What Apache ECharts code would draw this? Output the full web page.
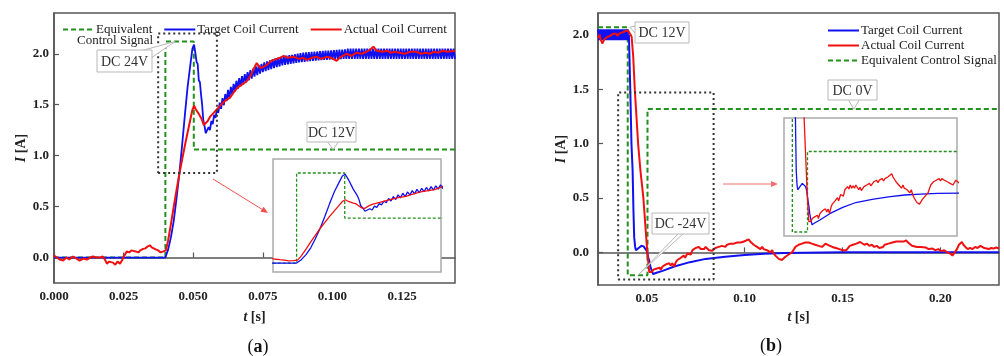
<!DOCTYPE html>
<html>
<head>
<meta charset="utf-8">
<script src="https://cdn.jsdelivr.net/npm/echarts@6/dist/echarts.min.js"></script>
<style>
  html, body { margin: 0; padding: 0; background: #fff; }
  #chart { width: 1004px; height: 356px; }
</style>
</head>
<body>
<div id="chart"></div>
<script>
// ---- (a) switching on: time [s], current [A] ----
const ticksTimeA = [0, 0.025, 0.05, 0.075, 0.1, 0.125];
const ticksCurrentA = [0, 0.5, 1, 1.5, 2];
const controlA = [[0, 0], [0.0400, 0], [0.0400, 2.12], [0.0502, 2.12], [0.0502, 1.06], [0.144, 1.06]];
const targetA = [
  [0, 0], [0.040, 0], [0.041, 0.08], [0.042, 0.2], [0.043, 0.36], [0.044, 0.58], [0.045, 0.82], [0.046, 1.1],
  [0.047, 1.4], [0.048, 1.68], [0.049, 1.9], [0.0497, 2.05], [0.0503, 2.09], [0.0508, 2.0], [0.0512, 1.92],
  [0.0516, 1.9], [0.052, 1.74], [0.0524, 1.72], [0.0528, 1.6], [0.0532, 1.5], [0.0536, 1.35], [0.054, 1.3],
  [0.0545, 1.22], [0.055, 1.25],
  [0.0555, 1.28], [0.056, 1.25], [0.0565, 1.34], [0.057, 1.31], [0.0575, 1.40], [0.058, 1.37], [0.0585, 1.46],
  [0.059, 1.42], [0.0595, 1.52], [0.060, 1.46], [0.0605, 1.565], [0.061, 1.495], [0.0615, 1.605], [0.062, 1.535],
  [0.0625, 1.645], [0.063, 1.565], [0.0635, 1.675], [0.064, 1.60], [0.0645, 1.705], [0.065, 1.63], [0.0655, 1.735],
  [0.066, 1.655], [0.0665, 1.76], [0.067, 1.68], [0.0675, 1.78], [0.068, 1.70], [0.0685, 1.80], [0.069, 1.72],
  [0.0695, 1.82], [0.070, 1.74], [0.0705, 1.84], [0.071, 1.755], [0.0715, 1.855], [0.072, 1.775], [0.0725, 1.875],
  [0.073, 1.79], [0.0735, 1.89], [0.074, 1.805], [0.0745, 1.90], [0.075, 1.82], [0.0755, 1.915], [0.076, 1.83],
  [0.0765, 1.925], [0.077, 1.84], [0.0775, 1.935], [0.078, 1.85], [0.0785, 1.945], [0.079, 1.86], [0.0795, 1.955],
  [0.080, 1.868], [0.0805, 1.962], [0.081, 1.875], [0.0815, 1.97], [0.082, 1.885], [0.0825, 1.977], [0.083, 1.89],
  [0.0835, 1.982], [0.084, 1.895], [0.0845, 1.987], [0.085, 1.90], [0.0855, 1.99], [0.086, 1.905], [0.0865, 1.995],
  [0.087, 1.91], [0.0875, 2.0], [0.088, 1.915], [0.0885, 2.005], [0.089, 1.918], [0.0895, 2.01], [0.090, 1.92],
  [0.0905, 2.013], [0.091, 1.925], [0.0915, 2.015], [0.092, 1.928], [0.0925, 2.018], [0.093, 1.93], [0.0935, 2.02],
  [0.094, 1.933], [0.0945, 2.022], [0.095, 1.935], [0.0955, 2.025], [0.096, 1.937], [0.0965, 2.027], [0.097, 1.94],
  [0.0975, 2.03], [0.098, 1.94], [0.0985, 2.03], [0.099, 1.942], [0.0995, 2.033], [0.100, 1.945], [0.1005, 2.035],
  [0.101, 1.945], [0.1015, 2.037], [0.102, 1.947], [0.1025, 2.04], [0.103, 1.948], [0.1035, 2.04], [0.104, 1.95],
  [0.1045, 2.042], [0.105, 1.95], [0.1055, 2.05], [0.106, 1.95], [0.1065, 2.05], [0.107, 1.95], [0.1075, 2.05],
  [0.108, 1.95], [0.1085, 2.05], [0.109, 1.95], [0.1095, 2.05], [0.110, 1.95], [0.1105, 2.05], [0.111, 1.95],
  [0.1115, 2.05], [0.112, 1.95], [0.1125, 2.05], [0.113, 1.95], [0.1135, 2.05], [0.114, 1.95], [0.1145, 2.05],
  [0.115, 1.95], [0.1155, 2.05], [0.116, 1.95], [0.1165, 2.05], [0.117, 1.95], [0.1175, 2.05], [0.118, 1.95],
  [0.1185, 2.05], [0.119, 1.95], [0.1195, 2.05], [0.120, 1.95], [0.1205, 2.05], [0.121, 1.95], [0.1215, 2.05],
  [0.122, 1.95], [0.1225, 2.05], [0.123, 1.95], [0.1235, 2.05], [0.124, 1.95], [0.1245, 2.05], [0.125, 1.95],
  [0.1255, 2.05], [0.126, 1.95], [0.1265, 2.05], [0.127, 1.95], [0.1275, 2.05], [0.128, 1.95], [0.1285, 2.05],
  [0.129, 1.95], [0.1295, 2.05], [0.130, 1.95], [0.1305, 2.05], [0.131, 1.95], [0.1315, 2.05], [0.132, 1.95],
  [0.1325, 2.05], [0.133, 1.95], [0.1335, 2.05], [0.134, 1.95], [0.1345, 2.05], [0.135, 1.95], [0.1355, 2.05],
  [0.136, 1.95], [0.1365, 2.05], [0.137, 1.95], [0.1375, 2.05], [0.138, 1.95], [0.1385, 2.05], [0.139, 1.95],
  [0.1395, 2.05], [0.140, 1.95], [0.1405, 2.05], [0.141, 1.95], [0.1415, 2.05], [0.142, 1.95], [0.1425, 2.05],
  [0.143, 1.95], [0.1435, 2.05], [0.144, 1.95]
];
const actualA = [
  [0, 0.02], [0.001, 0.0], [0.002, -0.02], [0.0033, -0.03], [0.0045, 0.0], [0.0055, -0.02], [0.0068, 0.01],
  [0.0081, -0.01], [0.0092, -0.03], [0.0105, -0.01], [0.0118, -0.02], [0.013, 0.0], [0.014, 0.01], [0.0152, 0.0],
  [0.0165, 0.0], [0.0175, 0.01], [0.0183, -0.02], [0.019, -0.06], [0.0198, -0.04], [0.0205, -0.05], [0.0212, -0.05],
  [0.022, -0.07], [0.0228, -0.04], [0.0237, -0.06], [0.0244, -0.03], [0.0249, 0.0], [0.0255, 0.03], [0.0261, 0.06],
  [0.027, 0.05], [0.0278, 0.07], [0.0285, 0.07], [0.0293, 0.06], [0.0303, 0.05], [0.031, 0.07], [0.032, 0.085],
  [0.0328, 0.09], [0.0337, 0.11], [0.0345, 0.12], [0.0351, 0.1], [0.0357, 0.09], [0.0365, 0.08], [0.0374, 0.07],
  [0.0383, 0.05], [0.0393, 0.06], [0.0402, 0.07],
  [0.041, 0.17], [0.042, 0.33], [0.043, 0.5], [0.044, 0.66], [0.045, 0.82], [0.046, 0.96], [0.047, 1.1],
  [0.048, 1.23], [0.049, 1.36], [0.0497, 1.45], [0.0503, 1.49],
  [0.051, 1.45], [0.052, 1.41], [0.0525, 1.40], [0.053, 1.36], [0.0538, 1.30], [0.0545, 1.29], [0.0552, 1.34],
  [0.056, 1.38], [0.057, 1.41], [0.0584, 1.45], [0.060, 1.50], [0.0615, 1.54], [0.0632, 1.57], [0.0645, 1.62],
  [0.066, 1.67], [0.0676, 1.70], [0.0692, 1.73], [0.0705, 1.78], [0.0715, 1.84], [0.0728, 1.91], [0.074, 1.86],
  [0.0752, 1.87], [0.0764, 1.89], [0.078, 1.93], [0.080, 1.95], [0.0812, 1.96], [0.0825, 1.98], [0.084, 1.96],
  [0.086, 1.97], [0.088, 1.95], [0.0895, 1.96], [0.0908, 1.94], [0.0925, 1.96], [0.0944, 1.97], [0.096, 1.95],
  [0.0978, 1.97], [0.0995, 1.96], [0.1015, 1.93], [0.103, 1.97], [0.105, 2.0], [0.1068, 1.98], [0.1085, 2.01],
  [0.1105, 2.0], [0.1123, 2.02], [0.1135, 2.04], [0.1147, 2.07], [0.1158, 2.03], [0.118, 2.02], [0.1195, 2.03],
  [0.121, 2.01], [0.1225, 2.02], [0.124, 2.01], [0.126, 2.0], [0.128, 2.02], [0.130, 2.02], [0.1318, 2.0],
  [0.1335, 2.01], [0.135, 2.0], [0.1365, 2.02], [0.138, 2.01], [0.1397, 2.03], [0.1412, 2.02], [0.144, 2.03]
];
const zoomBoxA = [[0.0374, 0.83], [0.0585, 2.2]];

// ---- (b) switching off ----
const ticksTimeB = [0.05, 0.1, 0.15, 0.2];
const ticksCurrentB = [0, 0.5, 1, 1.5, 2];
const controlB = [[0.025, 2.07], [0.0402, 2.07], [0.0402, -0.21], [0.0503, -0.21], [0.0503, 1.317], [0.23, 1.317]];
const controlInsetB = [[0.036, 0.6], [0.0411, 0.6], [0.0411, -0.245], [0.0504, -0.245], [0.0504, 0.26], [0.142, 0.26]];
const targetB = [
  [0.025, 2.05], [0.0255, 1.95], [0.026, 2.05], [0.0265, 1.95], [0.027, 2.05], [0.0275, 1.95], [0.028, 2.05],
  [0.0285, 1.95], [0.029, 2.05], [0.0295, 1.95], [0.030, 2.05], [0.0305, 1.95], [0.031, 2.05], [0.0315, 1.95],
  [0.032, 2.05], [0.0325, 1.95], [0.033, 2.05], [0.0335, 1.95], [0.034, 2.05], [0.0345, 1.95], [0.035, 2.05],
  [0.0355, 1.95], [0.036, 2.05], [0.0365, 1.95], [0.037, 2.05], [0.0375, 1.95], [0.038, 2.05], [0.0385, 1.95],
  [0.039, 2.05], [0.0395, 1.95], [0.040, 2.05], [0.0405, 1.95],
  [0.0408, 2.0], [0.0415, 1.5], [0.0421, 1.0], [0.0427, 0.75], [0.0431, 0.4], [0.0435, 0.14], [0.044, 0.05],
  [0.0444, 0.02], [0.0452, 0.03], [0.0461, 0.045], [0.0472, 0.06], [0.0483, 0.055], [0.0492, 0.04], [0.050, 0.01],
  [0.0506, -0.04], [0.0512, -0.08], [0.0518, -0.13], [0.0524, -0.165], [0.0532, -0.2], [0.0545, -0.19],
  [0.058, -0.17], [0.064, -0.13], [0.072, -0.09], [0.080, -0.06], [0.090, -0.04], [0.100, -0.025], [0.110, -0.013],
  [0.120, -0.007], [0.130, -0.003], [0.150, 0], [0.230, 0]
];
const actualB = [
  [0.025, 1.97], [0.0258, 2.0], [0.0263, 1.96], [0.0268, 1.95], [0.0272, 1.92], [0.0277, 1.93], [0.0283, 1.96],
  [0.029, 1.95], [0.0297, 1.98], [0.0305, 1.97], [0.0312, 1.99], [0.032, 1.98], [0.0328, 2.01], [0.0335, 2.0],
  [0.0342, 2.01], [0.035, 1.99], [0.0358, 2.01], [0.0365, 2.0], [0.0372, 2.02], [0.0378, 2.01], [0.0385, 2.03],
  [0.0393, 2.02], [0.0402, 2.04], [0.041, 2.02], [0.0417, 2.0], [0.0422, 1.98], [0.043, 1.8], [0.0438, 1.5],
  [0.0455, 1.0], [0.0467, 0.75], [0.0482, 0.5], [0.0502, 0.0], [0.0512, -0.18], [0.0518, -0.17], [0.0525, -0.18],
  [0.0533, -0.16], [0.054, -0.17], [0.0548, -0.15], [0.0557, -0.16], [0.0565, -0.14], [0.0571, -0.16], [0.058, -0.13],
  [0.0588, -0.14], [0.0597, -0.11], [0.0605, -0.12], [0.0614, -0.1], [0.0622, -0.12], [0.063, -0.1], [0.0639, -0.13],
  [0.0648, -0.09], [0.0656, -0.07], [0.0665, -0.08], [0.0673, -0.05], [0.068, -0.06], [0.0688, -0.03], [0.0695, -0.05],
  [0.0707, -0.01], [0.0715, 0.0], [0.0724, -0.02], [0.0733, 0.02], [0.0741, 0.01], [0.0749, 0.04], [0.0758, 0.025],
  [0.0766, 0.05], [0.0775, 0.03], [0.0783, 0.045], [0.0792, 0.03], [0.080, 0.05], [0.081, 0.043], [0.0818, 0.02],
  [0.0826, 0.035], [0.0834, 0.015], [0.0842, 0.02], [0.085, 0.04], [0.0858, 0.03], [0.0867, 0.05], [0.0875, 0.04],
  [0.0884, 0.06], [0.0892, 0.045], [0.0901, 0.05], [0.091, 0.07], [0.0918, 0.06], [0.0927, 0.08], [0.0936, 0.065],
  [0.0944, 0.08], [0.0953, 0.07], [0.0962, 0.09], [0.097, 0.075], [0.0979, 0.09], [0.0988, 0.08], [0.0996, 0.1],
  [0.1005, 0.09], [0.102, 0.12], [0.1028, 0.1], [0.1037, 0.11], [0.1046, 0.07], [0.1055, 0.08], [0.1063, 0.05],
  [0.1072, 0.06], [0.108, 0.03], [0.1089, 0.05], [0.1097, 0.03], [0.1106, 0.04], [0.1114, 0.02], [0.1123, 0.03],
  [0.1131, 0.0], [0.114, 0.02], [0.1148, -0.01], [0.1157, -0.03], [0.1165, -0.04], [0.1174, -0.06], [0.1182, -0.05],
  [0.119, -0.07], [0.120, -0.06], [0.1208, -0.04], [0.1217, -0.05], [0.1225, -0.02], [0.1234, -0.03], [0.1242, 0.0],
  [0.125, 0.01], [0.1259, 0.05], [0.1268, 0.04], [0.1276, 0.07], [0.1285, 0.06], [0.1293, 0.08], [0.1302, 0.07],
  [0.131, 0.09], [0.1319, 0.075], [0.1327, 0.09], [0.1334, 0.095], [0.1343, 0.08], [0.1352, 0.09], [0.136, 0.07],
  [0.1369, 0.08], [0.1378, 0.06], [0.1387, 0.07], [0.1395, 0.05], [0.1404, 0.06], [0.1413, 0.08], [0.1422, 0.07],
  [0.143, 0.065], [0.144, 0.07], [0.1448, 0.05], [0.1457, 0.06], [0.1466, 0.04], [0.1475, 0.05], [0.1484, 0.03],
  [0.1493, 0.04], [0.1502, 0.02], [0.151, 0.03], [0.152, 0.02], [0.1528, 0.04], [0.1537, 0.06], [0.1545, 0.05],
  [0.1554, 0.07], [0.1563, 0.06], [0.1571, 0.08], [0.158, 0.07], [0.159, 0.095], [0.160, 0.08], [0.1612, 0.07],
  [0.1625, 0.08], [0.1637, 0.06], [0.165, 0.07], [0.1662, 0.05], [0.1675, 0.06], [0.1688, 0.04], [0.1697, 0.05],
  [0.1707, 0.05], [0.1716, 0.07], [0.1725, 0.06], [0.1735, 0.08], [0.1745, 0.07], [0.1755, 0.09], [0.1765, 0.08],
  [0.1775, 0.1], [0.1785, 0.09], [0.1795, 0.1], [0.1805, 0.09], [0.1815, 0.1], [0.1826, 0.11], [0.1835, 0.09],
  [0.1845, 0.08], [0.1855, 0.06], [0.1865, 0.05], [0.188, 0.05], [0.189, 0.04], [0.190, 0.05], [0.191, 0.035],
  [0.1925, 0.045], [0.194, 0.03], [0.196, 0.035], [0.1975, 0.02], [0.199, 0.03], [0.2005, 0.01], [0.202, 0.02],
  [0.2035, 0.0], [0.205, -0.01], [0.2062, -0.03], [0.207, -0.02], [0.2085, 0.03], [0.2095, 0.07], [0.211, 0.095],
  [0.2118, 0.07], [0.2128, 0.05], [0.214, 0.03], [0.2152, 0.04], [0.2165, 0.03], [0.2178, 0.05], [0.219, 0.04],
  [0.2205, 0.06], [0.2214, 0.055], [0.2225, 0.04], [0.2235, 0.05], [0.2248, 0.03], [0.226, 0.04], [0.2272, 0.035],
  [0.2285, 0.045], [0.230, 0.035]
];
const zoomBoxB = [[0.0353, -0.25], [0.0841, 1.47]];

// callouts: label and the point it refers to
const calloutsA = [{ label: 'DC 24V', tip: [0.0435, 2.12] }, { label: 'DC 12V', tip: [0.1002, 1.06] }];
const calloutsB = [{ label: 'DC 12V', tip: [0.0412, 2.07] }, { label: 'DC 0V', tip: [0.1558, 1.317] },
                   { label: 'DC -24V', tip: [0.0454, -0.21] }];

const SERIF = '"Liberation Serif", "Times New Roman", serif';
const BLUE = '#1010f0', RED = '#f01010', GREEN = '#22901c';

const chart = echarts.init(document.getElementById('chart'));

const rectPath = (b) => [[b[0][0], b[0][1]], [b[1][0], b[0][1]], [b[1][0], b[1][1]], [b[0][0], b[1][1]], [b[0][0], b[0][1]]];

function series(name, data, idx, color, width, type, z) {
  return {
    name, type: 'line', data, xAxisIndex: idx, yAxisIndex: idx, symbol: 'none', animation: false,
    lineStyle: { color, width, type, cap: 'butt' }, itemStyle: { color }, z: z || 2
  };
}

const nameStyle = {
  fontFamily: SERIF, fontSize: 14, fontWeight: 'bold', color: '#222',
  rich: { i: { fontFamily: SERIF, fontSize: 14, fontWeight: 'bold', fontStyle: 'italic', color: '#222' } }
};

function mainX(idx, min, max, ticks, digits, gap) {
  return {
    type: 'value', gridIndex: idx, min, max,
    name: '{i|t} [s]', nameLocation: 'middle', nameGap: gap, nameTextStyle: nameStyle,
    axisLine: { show: true, lineStyle: { color: '#555', width: 1.5 } },
    axisTick: { show: true, inside: true, length: 5, customValues: ticks, lineStyle: { color: '#555', width: 1.2 } },
    axisLabel: { customValues: ticks, margin: 7, fontFamily: SERIF, fontSize: 13, fontWeight: 'bold', color: '#222',
      formatter: (v) => v.toFixed(digits) },
    splitLine: { show: false }
  };
}

function mainY(idx, min, max, ticks, gap, margin) {
  return {
    type: 'value', gridIndex: idx, min, max,
    name: '{i|I} [A]', nameLocation: 'middle', nameGap: gap, nameTextStyle: nameStyle,
    axisLine: { show: true, lineStyle: { color: '#555', width: 1.5 } },
    axisTick: { show: true, inside: true, length: 5, customValues: ticks, lineStyle: { color: '#555', width: 1.2 } },
    axisLabel: { customValues: ticks, margin, fontFamily: SERIF, fontSize: 13, fontWeight: 'bold', color: '#222',
      formatter: (v) => v.toFixed(1) },
    splitLine: { show: false }
  };
}

const insetAxis = (idx, min, max) => ({ type: 'value', gridIndex: idx, min, max, show: false });

const option = {
  backgroundColor: '#fff',
  animation: false,
  grid: [
    { left: 54, top: 13, width: 401, height: 270, show: true, borderColor: '#555', borderWidth: 1.5 },
    { left: 598, top: 13, width: 401, height: 272, show: true, borderColor: '#555', borderWidth: 1.5 },
    { left: 273, top: 159, width: 168, height: 113, show: true, backgroundColor: '#fff', borderColor: '#aaa', borderWidth: 1.5, z: 3 },
    { left: 784, top: 118, width: 173, height: 118, show: true, backgroundColor: '#fff', borderColor: '#aaa', borderWidth: 1.5, z: 3 }
  ],
  xAxis: [
    mainX(0, 0, 0.144, ticksTimeA, 3, 27),
    mainX(1, 0.025, 0.23, ticksTimeB, 2, 25),
    insetAxis(2, 0.035, 0.0706),
    insetAxis(3, 0.036, 0.142)
  ],
  yAxis: [
    mainY(0, -0.25, 2.4, ticksCurrentA, 19, 5),
    mainY(1, -0.3, 2.2, ticksCurrentB, 19, 9),
    insetAxis(2, -0.21, 2.45),
    insetAxis(3, -0.27, 0.47)
  ],
  legend: [
    {
      data: ['Equivalent Control Signal', 'Target Coil Current', 'Actual Coil Current'],
      left: 57, top: 18, itemWidth: 31, itemHeight: 14, itemGap: 11,
      itemStyle: { opacity: 0 },
      formatter: (n) => n === 'Equivalent Control Signal' ? 'Equivalent' : n,
      textStyle: { fontFamily: SERIF, fontSize: 13, color: '#222', padding: [0, 0, 0, -3] }
    },
    {
      data: ['Target Coil Current', 'Actual Coil Current', 'Equivalent Control Signal'],
      orient: 'vertical', left: 822, top: 19, itemWidth: 31, itemHeight: 14, itemGap: 2,
      itemStyle: { opacity: 0 },
      textStyle: { fontFamily: SERIF, fontSize: 13, color: '#222', padding: [0, 0, 0, -3] }
    }
  ],
  series: [
    series('Equivalent Control Signal', controlA, 0, GREEN, 2, [5, 3]),
    series('Target Coil Current', targetA, 0, BLUE, 1.8, 'solid'),
    series('Actual Coil Current', actualA, 0, RED, 2, 'solid'),
    series('zoomA', rectPath(zoomBoxA), 0, '#333', 2, [2, 3]),

    series('Equivalent Control Signal', controlB, 1, GREEN, 2, [5, 3]),
    series('Target Coil Current', targetB, 1, BLUE, 2, 'solid'),
    series('Actual Coil Current', actualB, 1, RED, 2, 'solid'),
    series('zoomB', rectPath(zoomBoxB), 1, '#333', 2, [2, 3]),

    series('Equivalent Control Signal', controlA, 2, GREEN, 1.3, [3, 2], 4),
    series('Target Coil Current', targetA, 2, BLUE, 1.3, 'solid', 4),
    series('Actual Coil Current', actualA, 2, RED, 1.3, 'solid', 4),

    series('Equivalent Control Signal', controlInsetB, 3, GREEN, 1.3, [3, 2], 4),
    series('Target Coil Current', targetB, 3, BLUE, 1.3, 'solid', 4),
    series('Actual Coil Current', actualB, 3, RED, 1.3, 'solid', 4)
  ]
};
chart.setOption(option);

// ---- annotations (callout bubbles, arrows, captions) ----
const px = (g, pt) => chart.convertToPixel({ gridIndex: g }, pt);
const gfx = [];
function bubble(box, tip, tailBase, text) {
  gfx.push({ type: 'polygon', z: 50, shape: { points: [tailBase[0], tip, tailBase[1]] },
    style: { fill: '#fff', stroke: '#b8b8b8', lineWidth: 1 } });
  gfx.push({ type: 'rect', z: 51, shape: { x: box[0], y: box[1], width: box[2], height: box[3] },
    style: { fill: '#fff', stroke: '#b8b8b8', lineWidth: 1 } });
  gfx.push({ type: 'text', z: 53, x: box[0] + box[2] / 2, y: box[1] + box[3] / 2 + 1,
    style: { text, font: '14px ' + SERIF, fill: '#333', align: 'center', verticalAlign: 'middle' } });
}
function arrow(x1, y1, x2, y2, color) {
  const a = Math.atan2(y2 - y1, x2 - x1), L = 7, W = 3;
  gfx.push({ type: 'line', z: 50, shape: { x1, y1, x2: x2 - L * Math.cos(a), y2: y2 - L * Math.sin(a) },
    style: { stroke: color, lineWidth: 1 } });
  gfx.push({ type: 'polygon', z: 50, shape: { points: [[x2, y2],
    [x2 - L * Math.cos(a) + W * Math.sin(a), y2 - L * Math.sin(a) - W * Math.cos(a)],
    [x2 - L * Math.cos(a) - W * Math.sin(a), y2 - L * Math.sin(a) + W * Math.cos(a)]] },
    style: { fill: color } });
}

let t = px(0, calloutsA[0].tip);
bubble([97, 50, 55, 22], t, [[140, 51], [151, 58]], calloutsA[0].label);
t = px(0, calloutsA[1].tip);
bubble([307, 122, 49, 20], t, [[t[0] - 6, 141], [t[0] + 6, 141]], calloutsA[1].label);
t = px(1, calloutsB[0].tip);
bubble([635, 22, 54, 21], t, [[636, 26], [636, 34]], calloutsB[0].label);
t = px(1, calloutsB[1].tip);
bubble([828, 80, 49, 20], t, [[t[0] - 6, 99], [t[0] + 6, 99]], calloutsB[1].label);
t = px(1, calloutsB[2].tip);
bubble([652, 213, 57, 21], t, [[679, 233], [684, 233]], calloutsB[2].label);

arrow(213, 179, 268, 213, '#f05050');
arrow(723, 184, 778, 184, '#f07070');

gfx.push({ type: 'text', z: 50, x: 77, y: 41,
  style: { text: 'Control Signal', font: '13px ' + SERIF, fill: '#222', align: 'left', verticalAlign: 'middle' } });
gfx.push({ type: 'text', z: 50, x: 258, y: 347,
  style: { text: '({b|a})', font: '18px ' + SERIF, fill: '#111', align: 'center', verticalAlign: 'middle',
    rich: { b: { fontFamily: SERIF, fontSize: 18, fontWeight: 'bold', fill: '#111' } } } });
gfx.push({ type: 'text', z: 50, x: 771, y: 346,
  style: { text: '({b|b})', font: '18px ' + SERIF, fill: '#111', align: 'center', verticalAlign: 'middle',
    rich: { b: { fontFamily: SERIF, fontSize: 18, fontWeight: 'bold', fill: '#111' } } } });

chart.setOption({ graphic: { elements: gfx } });
</script>
</body>
</html>
